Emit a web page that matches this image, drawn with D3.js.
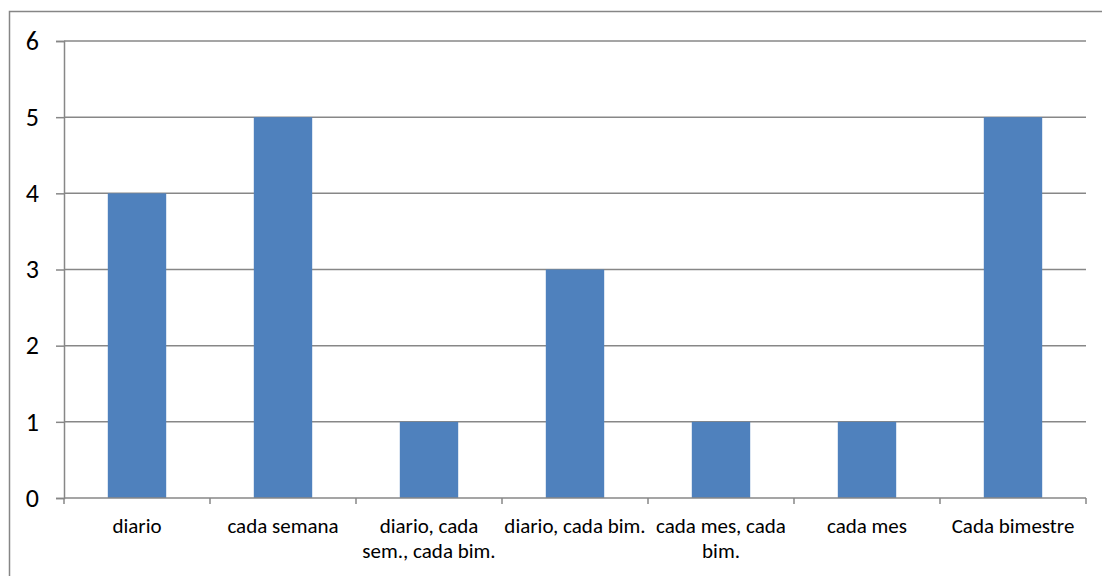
<!DOCTYPE html>
<html>
<head>
<meta charset="utf-8">
<script src="https://cdn.jsdelivr.net/npm/d3@7"></script>
<style>
  html, body { margin: 0; padding: 0; background: #fff; }
  svg { display: block; }
</style>
</head>
<body>
<svg id="chart" width="1102" height="576"></svg>
<script>
// Frequency of use, counted per answer
const categories = ["diario", "cada semana", "diario, cada sem., cada bim.", "diario, cada bim.", "cada mes, cada bim.", "cada mes", "Cada bimestre"];
const labelLines = [["diario"], ["cada semana"], ["diario, cada", "sem., cada bim."], ["diario, cada bim."], ["cada mes, cada", "bim."], ["cada mes"], ["Cada bimestre"]];
const counts = [4, 5, 1, 3, 1, 1, 5];
const yTicks = [0, 1, 2, 3, 4, 5, 6];

(function () {
  const svg = d3.select("#chart");
  const W = 1102, H = 576;
  const plotLeft = 64, plotRight = 1086, plotTop = 41, plotBottom = 498;
  const font = "Calibri, Carlito, 'Open Sans', sans-serif";
  const gridColor = "#878787";

  // Outer frame of the chart area
  svg.append("rect")
    .attr("x", 9.5).attr("y", 11.5)
    .attr("width", W + 20).attr("height", H + 20)
    .attr("fill", "#fff").attr("stroke", "#868686").attr("stroke-width", 1.5);

  const x = d3.scaleBand().domain(categories).range([plotLeft, plotRight]).paddingInner(0.6).paddingOuter(0.3);
  const step = (plotRight - plotLeft) / categories.length;
  const y = d3.scaleLinear().domain([0, 6]).range([plotBottom, plotTop]);

  // Horizontal gridlines
  svg.append("g").selectAll("line").data(yTicks.filter(d => d > 0)).join("line")
    .attr("x1", plotLeft).attr("x2", plotRight)
    .attr("y1", d => y(d)).attr("y2", d => y(d))
    .attr("stroke", gridColor).attr("stroke-width", 1.5);

  // Bars
  svg.append("g").selectAll("rect").data(counts).join("rect")
    .attr("x", (d, i) => x(categories[i]))
    .attr("y", d => y(d))
    .attr("width", x.bandwidth())
    .attr("height", d => y(0) - y(d))
    .attr("fill", "#4F81BD");

  // Y axis
  const yAxis = svg.append("g").attr("transform", `translate(${plotLeft},0)`)
    .call(d3.axisLeft(y).tickValues(yTicks).tickSize(8).tickPadding(17).tickFormat(d3.format("d")));
  yAxis.select(".domain").attr("stroke", gridColor).attr("stroke-width", 1.5);
  yAxis.selectAll(".tick line").attr("stroke", gridColor).attr("stroke-width", 1.5);
  yAxis.selectAll(".tick text").attr("font-family", font).attr("font-size", 26).attr("fill", "#000");

  // X axis line with category boundary ticks
  const xg = svg.append("g");
  xg.append("line").attr("x1", plotLeft).attr("x2", plotRight).attr("y1", plotBottom).attr("y2", plotBottom)
    .attr("stroke", gridColor).attr("stroke-width", 1.5);
  xg.selectAll("line.tk").data(d3.range(categories.length + 1)).join("line").attr("class", "tk")
    .attr("x1", i => plotLeft + i * step).attr("x2", i => plotLeft + i * step)
    .attr("y1", plotBottom).attr("y2", plotBottom + 6)
    .attr("stroke", gridColor).attr("stroke-width", 1.5);

  // Category labels
  const lab = xg.selectAll("text").data(categories).join("text")
    .attr("x", d => x(d) + x.bandwidth() / 2)
    .attr("y", 533)
    .attr("text-anchor", "middle")
    .attr("font-family", font).attr("font-size", 21).attr("fill", "#000");
  lab.each(function (d, i) {
    d3.select(this).selectAll("tspan").data(labelLines[i]).join("tspan")
      .attr("x", x(d) + x.bandwidth() / 2)
      .attr("dy", (t, j) => j === 0 ? 0 : 25)
      .text(t => t);
  });
})();
</script>
</body>
</html>
